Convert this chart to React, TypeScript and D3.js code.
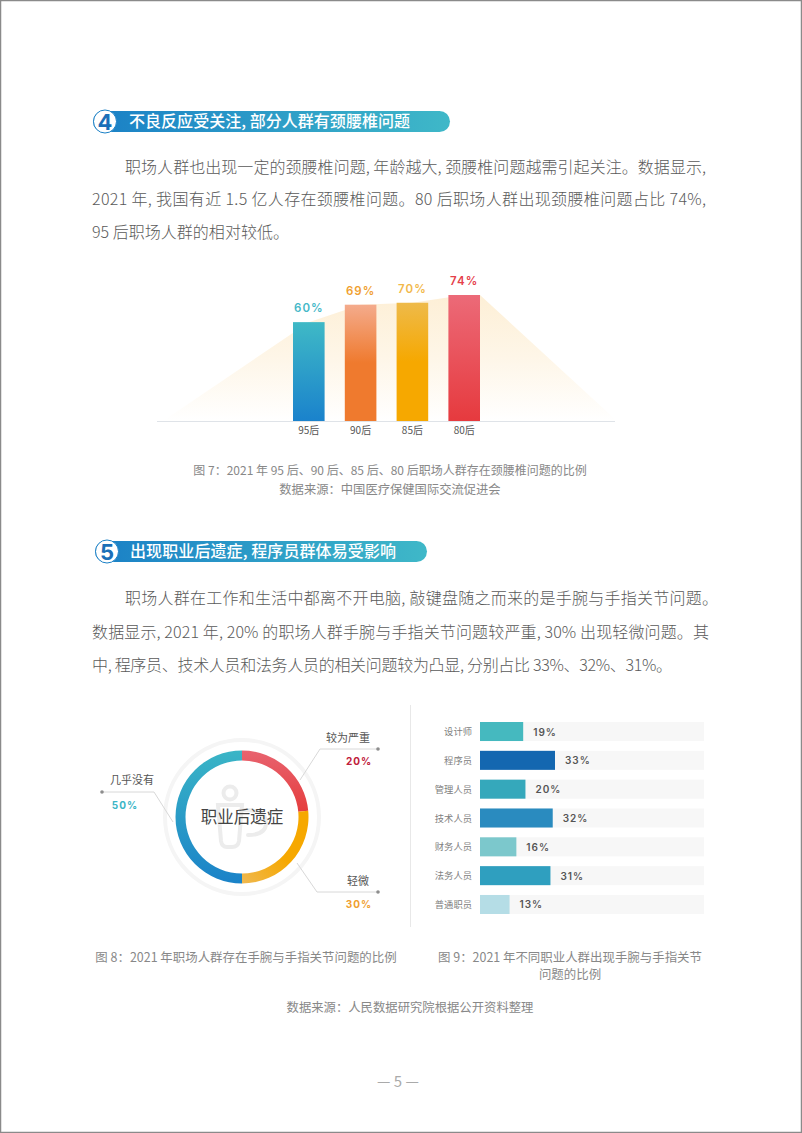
import React, { useRef, useEffect } from "react";
import * as d3 from "d3";

const WIDTH = 802;
const HEIGHT = 1133;
const CJK = "'Noto Sans CJK SC', sans-serif";
const NUM = "Inter, 'Noto Sans CJK SC', sans-serif";

// figure 7
const ageGroups = ["95后", "90后", "85后", "80后"];
const neckShares = [60, 69, 70, 74];
const neckLabelColors = ["#45b8c8", "#f0a030", "#f2b84a", "#e5404a"];
const neckGradients = [
  ["#3fb9c6", "#1a82cc"],
  ["#f4ab8c", "#ef7a2e", "#ef7a2e"],
  ["#eeba4a", "#f6a800", "#f6a800"],
  ["#ec6a78", "#e63a3e"],
];

// figure 8: labelled values, and the sweep as the ring actually draws it
const ringNames = ["较为严重", "轻微", "几乎没有"];
const ringLabels = [20, 30, 50];
const ringDrawn = [23.5, 26.5, 50];
const ringLabelColors = ["#c0203a", "#f0a030", "#3ab5c6"];
const ringGradients = [
  ["#e8636f", "#e53d3d"],
  ["#f6a800", "#f6a800", "#efb850"],
  ["#3ab5c6", "#1a82c8"],
];

// figure 9
const jobs = ["设计师", "程序员", "管理人员", "技术人员", "财务人员", "法务人员", "普通职员"];
const jobShares = [19, 33, 20, 32, 16, 31, 13];
const jobColors = ["#45b9bf", "#1467b0", "#35a8bb", "#2a8bbf", "#7cc8cc", "#2f9fbf", "#b5dde6"];

const section4 = [
  "职场人群也出现一定的颈腰椎问题, 年龄越大, 颈腰椎问题越需引起关注。数据显示,",
  "2021 年, 我国有近 1.5 亿人存在颈腰椎问题。80 后职场人群出现颈腰椎问题占比 74%,",
  "95 后职场人群的相对较低。",
];
const section5 = [
  "职场人群在工作和生活中都离不开电脑, 敲键盘随之而来的是手腕与手指关节问题。",
  "数据显示, 2021 年, 20% 的职场人群手腕与手指关节问题较严重, 30% 出现轻微问题。其",
  "中, 程序员、技术人员和法务人员的相关问题较为凸显, 分别占比 33%、32%、31%。",
];

const App = () => {
  const svgRef = useRef<SVGSVGElement>(null);

  useEffect(() => {
    const svg = d3.select(svgRef.current);
    svg.selectAll("*").remove();
    const defs = svg.append("defs");

    const addGradient = (id: string, stops: string[], x1 = 0, y1 = 0, x2 = 0, y2 = 1) => {
      const g = defs
        .append("linearGradient")
        .attr("id", id)
        .attr("x1", x1)
        .attr("y1", y1)
        .attr("x2", x2)
        .attr("y2", y2);
      stops.forEach((c, i) =>
        g.append("stop").attr("offset", i / (stops.length - 1)).attr("stop-color", c)
      );
    };

    const text = (s: string, x: number, y: number, size: number, fill: string, anchor = "middle") =>
      svg
        .append("text")
        .attr("x", x)
        .attr("y", y)
        .attr("font-family", CJK)
        .attr("font-size", size)
        .attr("fill", fill)
        .attr("text-anchor", anchor)
        .text(s);

    // page frame
    svg
      .append("rect")
      .attr("x", 0.5)
      .attr("y", 0.5)
      .attr("width", WIDTH - 1)
      .attr("height", HEIGHT - 1)
      .attr("fill", "#fff")
      .attr("stroke", "#8a8a8a")
      .attr("stroke-width", 1.5);

    // section headers
    addGradient("pill", ["#1a80c6", "#3fb8c8"], 0, 0, 1, 0);
    const header = (num: string, title: string, x0: number, x1: number, y: number, titleX: number, titleLen: number) => {
      svg
        .append("rect")
        .attr("x", x0)
        .attr("y", y - 10.5)
        .attr("width", x1 - x0)
        .attr("height", 21)
        .attr("rx", 10.5)
        .attr("fill", "url(#pill)");
      svg
        .append("circle")
        .attr("cx", x0 + 12)
        .attr("cy", y)
        .attr("r", 11.5)
        .attr("fill", "#fff")
        .attr("stroke", "#1a80c6");
      text(num, x0 + 12, y + 8, 22, "#1a6fb8").attr("font-weight", 700).attr("font-family", NUM);
      text(title, titleX, y + 5.5, 16, "#fff", "start")
        .attr("font-weight", 500)
        .attr("textLength", titleLen);
    };
    header("4", "不良反应受关注, 部分人群有颈腰椎问题", 93, 450, 121.5, 129, 281);
    header("5", "出现职业后遗症, 程序员群体易受影响", 95, 427, 551.5, 130, 266);

    // body paragraphs, justified through textLength
    const paragraph = (lines: string[], ys: number[], ends: number[]) =>
      lines.forEach((l, i) => {
        const x = i === 0 ? 125 : 92;
        text(l, x, ys[i], 16, "#5a5a5a", "start")
          .attr("font-weight", 300)
          .attr("textLength", ends[i] - x);
      });
    paragraph(section4, [173, 205, 238], [706, 706, 289]);
    paragraph(section5, [604, 638, 671], [718, 709, 672]);

    // figure 7
    const baseY = 421;
    const xBand = d3.scaleBand().domain(ageGroups).range([293, 480]).paddingInner(0.39).paddingOuter(0);
    const yNeck = d3.scaleLinear().domain([9, 74]).range([baseY, 295]);

    addGradient("glow", ["#fdefd6", "#fef6e8", "#ffffff"]);
    const glowX = [163, ...ageGroups.map((d) => xBand(d)! + xBand.bandwidth() / 2), 480, 617];
    const glowV = [9, ...neckShares, 74, 9];
    const glow = d3
      .area<number>()
      .x((_, i) => glowX[i])
      .y0(baseY)
      .y1((d) => yNeck(d));
    svg.append("path").attr("d", glow(glowV)).attr("fill", "url(#glow)");

    svg
      .append("line")
      .attr("x1", 157)
      .attr("x2", 615)
      .attr("y1", baseY + 0.5)
      .attr("y2", baseY + 0.5)
      .attr("stroke", "#dfe3e8");

    ageGroups.forEach((d, i) => {
      addGradient(`neck${i}`, neckGradients[i]);
      const cx = xBand(d)! + xBand.bandwidth() / 2;
      svg
        .append("rect")
        .attr("x", xBand(d)!)
        .attr("y", yNeck(neckShares[i]))
        .attr("width", xBand.bandwidth())
        .attr("height", baseY - yNeck(neckShares[i]))
        .attr("fill", `url(#neck${i})`);
      text(`${neckShares[i]}%`, cx, yNeck(neckShares[i]) - 10, 11.5, neckLabelColors[i])
        .attr("font-family", NUM)
        .attr("font-weight", 600)
        .attr("letter-spacing", 1);
      text(d, cx, 434, 10, "#555");
    });

    text("图 7：2021 年 95 后、90 后、85 后、80 后职场人群存在颈腰椎问题的比例", 390, 475, 12, "#888");
    text("数据来源：中国医疗保健国际交流促进会", 390, 494, 12.3, "#888");

    // figure 8
    const cx = 242;
    const cy = 817;
    const ring = svg.append("g").attr("transform", `translate(${cx},${cy})`);
    ring.append("circle").attr("r", 77).attr("fill", "none").attr("stroke", "#f5f5f5").attr("stroke-width", 4);

    // faint person behind the centre label
    const person = ring
      .append("g")
      .attr("fill", "none")
      .attr("stroke", "#ececec")
      .attr("stroke-width", 4)
      .attr("stroke-linecap", "round");
    person.append("circle").attr("cx", -12).attr("cy", -24).attr("r", 6.5);
    person.append("path").attr("d", "M-24,-12 H0 L-3,24 Q-4,30 -10,30 H-15 Q-20,30 -21,24 Z");
    person.append("path").attr("d", "M2,-7 Q24,-7 24,6 Q24,18 6,18");

    const pie = d3.pie<number>().sort(null)(ringDrawn);
    const arc = d3.arc<d3.PieArcDatum<number>>().innerRadius(56.5).outerRadius(66.5);
    pie.forEach((p, i) => {
      addGradient(`ring${i}`, ringGradients[i], i === 1 ? 1 : 0, 0, i === 1 ? 0 : 0, 1);
      ring
        .append("path")
        .attr("d", arc(p))
        .attr("fill", `url(#ring${i})`);
    });
    text("职业后遗症", cx, cy + 6, 16.5, "#444");

    const leader = d3.line();
    const leaders: [number, number][][] = [
      [[300, 780], [320, 749], [378, 749]],
      [[297, 863], [317, 892], [378, 892]],
      [[173, 822], [154, 792], [102, 792]],
    ];
    leaders.forEach((pts) => {
      svg.append("path").attr("d", leader(pts)).attr("fill", "none").attr("stroke", "#d8d8d8");
      const end = pts[pts.length - 1];
      svg.append("circle").attr("cx", end[0]).attr("cy", end[1]).attr("r", 1.8).attr("fill", "#8d8d8d");
    });
    const ringNamePos = [[348, 742], [358, 885], [132, 784]];
    const ringValuePos = [[359, 765], [359, 908], [125, 809]];
    ringNames.forEach((n, i) => {
      text(n, ringNamePos[i][0], ringNamePos[i][1], 11, "#555");
      text(`${ringLabels[i]}%`, ringValuePos[i][0], ringValuePos[i][1], 10, ringLabelColors[i])
        .attr("font-family", NUM)
        .attr("font-weight", 700)
        .attr("letter-spacing", 1);
    });

    svg.append("line").attr("x1", 410.5).attr("x2", 410.5).attr("y1", 705).attr("y2", 927).attr("stroke", "#e8e8e8");

    // figure 9
    const yJob = d3.scaleBand().domain(jobs).range([722, 914]).paddingInner(0.34).paddingOuter(0);
    const xJob = d3.scaleLinear().domain([0, 33]).range([480, 555]);
    jobs.forEach((d, i) => {
      const y = yJob(d)!;
      const h = yJob.bandwidth();
      svg.append("rect").attr("x", 480).attr("y", y).attr("width", 224).attr("height", h).attr("fill", "#f7f7f7");
      svg
        .append("rect")
        .attr("x", 480)
        .attr("y", y)
        .attr("width", xJob(jobShares[i]) - 480)
        .attr("height", h)
        .attr("fill", jobColors[i]);
      text(d, 472, y + h / 2 + 3.5, 9.3, "#808080", "end");
      text(`${jobShares[i]}%`, xJob(jobShares[i]) + 10, y + h / 2 + 4, 10, "#555", "start")
        .attr("font-family", NUM)
        .attr("font-weight", 600)
        .attr("letter-spacing", 1);
    });

    text("图 8：2021 年职场人群存在手腕与手指关节问题的比例", 246, 962, 12.45, "#888");
    text("图 9：2021 年不同职业人群出现手腕与手指关节", 570, 962, 12.45, "#888");
    text("问题的比例", 570, 979, 12.45, "#888");
    text("数据来源：人民数据研究院根据公开资料整理", 410, 1012, 12.35, "#888");
    text("— 5 —", 398, 1087, 15, "#aaa");
  }, []);

  return (
    <svg
      ref={svgRef}
      width={WIDTH}
      height={HEIGHT}
      style={{ position: "absolute", left: 0, top: 0, display: "block" }}
    />
  );
};

export default App;
